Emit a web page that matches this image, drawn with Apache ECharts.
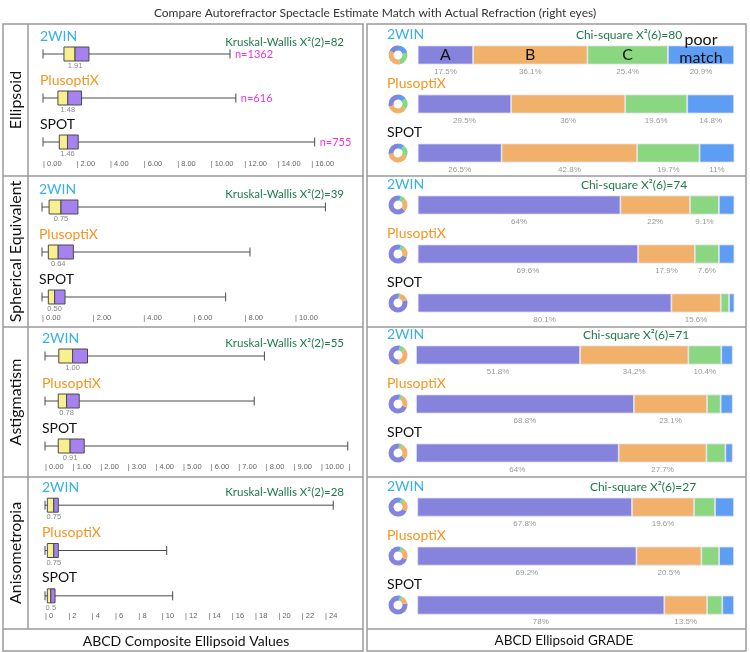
<!DOCTYPE html>
<html><head><meta charset="utf-8">
<script src="https://cdn.jsdelivr.net/npm/echarts@6/dist/echarts.min.js"></script>
<style>html,body{margin:0;padding:0;background:#fff}#c{width:750px;height:653px}</style>
</head><body><div id="c"></div>
<script>
// ---------- DATA ----------
const devices = ['2WIN', 'PlusoptiX', 'SPOT'];
const rowNames = ['Ellipsoid', 'Spherical Equivalent', 'Astigmatism', 'Anisometropia'];
// box stats per device: [min, Q1, median, Q3, max]
const ellipsoidBox = [[0, 1.25, 1.91, 2.74, 11.15], [0, 0.89, 1.48, 2.3, 11.5], [0, 0.97, 1.46, 2.1, 16.2]];
const sphericalBox = [[0, 0.28, 0.75, 1.42, 11.2], [0, 0.25, 0.64, 1.24, 8.22], [0, 0.25, 0.50, 0.91, 7.26]];
const astigBox = [[0, 0.5, 1.00, 1.54, 7.95], [0, 0.48, 0.78, 1.24, 7.58], [0, 0.48, 0.91, 1.42, 10.97]];
const anisoBox = [[0, 0.2, 0.75, 1.14, 24.7], [0, 0.2, 0.75, 1.14, 10.43], [0, 0.2, 0.5, 0.86, 10.94]];
const ellipsoidN = ['n=1362', 'n=616', 'n=755'];
const kruskal = [82, 39, 55, 28];
const chiSquare = [80, 74, 71, 27];
const gradeNames = ['A', 'B', 'C', 'poor match'];
// grade % per device: [A, B, C, poor match]
const ellipsoidGrade = [[17.5, 36.1, 25.4, 20.9], [29.5, 36, 19.6, 14.8], [26.5, 42.8, 19.7, 11]];
const sphericalGrade = [[64, 22, 9.1, 4.9], [69.6, 17.9, 7.6, 4.9], [80.1, 15.6, 2.6, 1.7]];
const astigGrade = [[51.8, 34.2, 10.4, 3.6], [68.8, 23.1, 4.3, 3.8], [64, 27.7, 6, 2.3]];
const anisoGrade = [[67.8, 19.6, 6.6, 6], [69.2, 20.5, 5.6, 4.7], [78, 13.5, 4.8, 3.7]];
// axis ranges
const axisMax = [17, 11.5, 11, 25];
const axisStep = [2, 2, 1, 2];
const axisDecimals = [2, 2, 2, 0];

// ---------- STYLE / LAYOUT ----------
const boxes = [ellipsoidBox, sphericalBox, astigBox, anisoBox];
const grades = [ellipsoidGrade, sphericalGrade, astigGrade, anisoGrade];
const devColors = ['#37b1e6', '#f7931e', '#111111'];
const gradeColors = ['#8683dc', '#f2b16b', '#8bd680', '#5e9df4'];
const FONT = '"Lato","Open Sans",sans-serif';
const SMALL = '"Liberation Sans",Arial,sans-serif';
const GREEN = '#1f7a4a';
const leftLay = [
  {x0: 43, ppu: 16.77, top: 32, h: 132, labM: 0},
  {x0: 42, ppu: 25.3, top: 184.5, h: 135, labM: -2},
  {x0: 45, ppu: 27.6, top: 333.5, h: 135, labM: -2},
  {x0: 45, ppu: 11.67, top: 482.5, h: 136, labM: -3}
];
const rightLay = [
  {left: 417.7, top: 30.5, chiX: 629}, {left: 417.7, top: 180.5, chiX: 634}, {left: 416, top: 330.5, chiX: 636}, {left: 417.3, top: 482.6, chiX: 643}
];
const RW = 316.7, RH = 147;
const rowTops = [24, 176, 327, 477, 629];

const grid = [], xAxis = [], yAxis = [], series = [], graphic = [];

function fmtNum(v, d) { return d === 0 ? String(v) : v.toFixed(d); }

for (let i = 0; i < 4; i++) {
  const L = leftLay[i];
  grid.push({left: L.x0, top: L.top, width: axisMax[i] * L.ppu, height: L.h, outerBoundsMode: 'none', containLabel: false});
  const step = axisStep[i], dec = axisDecimals[i], mx = axisMax[i];
  xAxis.push({
    type: 'value', gridIndex: i, min: 0, max: mx, interval: step,
    axisLine: {show: false}, axisTick: {show: false}, splitLine: {show: false},
    axisLabel: {
      show: true, align: 'left', verticalAlign: 'middle', margin: L.labM,
      fontSize: 7.5, color: '#666', fontFamily: SMALL, hideOverlap: false,
      showMinLabel: true, showMaxLabel: true,
      formatter: function (v) {
        if (Math.abs(v / step - Math.round(v / step)) > 1e-6) return '';
        if (i === 2 && v === mx) return '|';
        return '| ' + fmtNum(v, dec);
      }
    }
  });
  yAxis.push({type: 'category', gridIndex: i, data: devices, inverse: true, show: false});
  const rowIdx = i;
  series.push({
    type: 'custom', xAxisIndex: i, yAxisIndex: i, clip: false, silent: true,
    encode: {x: [1, 2, 3, 4, 5], y: 0},
    data: boxes[i].map((b, k) => [k].concat(b)),
    renderItem: function (params, api) {
      const k = api.value(0);
      const pMin = api.coord([api.value(1), k]);
      const pQ1 = api.coord([api.value(2), k]);
      const pMd = api.coord([api.value(3), k]);
      const pQ3 = api.coord([api.value(4), k]);
      const pMax = api.coord([api.value(5), k]);
      const y = pMin[1], bh = 14, ch = 9;
      const ls = {stroke: '#4a4a4a', lineWidth: 1};
      const ch_ = [
        {type: 'line', shape: {x1: pMin[0], y1: y, x2: pMax[0], y2: y}, style: ls},
        {type: 'line', shape: {x1: pMin[0], y1: y - ch / 2, x2: pMin[0], y2: y + ch / 2}, style: ls},
        {type: 'line', shape: {x1: pMax[0], y1: y - ch / 2, x2: pMax[0], y2: y + ch / 2}, style: ls},
        {type: 'rect', shape: {x: pQ1[0], y: y - bh / 2, width: pMd[0] - pQ1[0], height: bh}, style: {fill: '#f8f08e', stroke: '#4a4a4a', lineWidth: 1}},
        {type: 'rect', shape: {x: pMd[0], y: y - bh / 2, width: pQ3[0] - pMd[0], height: bh}, style: {fill: '#a582f0', stroke: '#4a4a4a', lineWidth: 1}},
        {type: 'text', style: {text: fmtNum(api.value(3), axisDecimals[rowIdx] === 0 ? 0 : 2), x: pMd[0], y: y + 12, textAlign: 'center', textVerticalAlign: 'middle', font: '7.5px ' + SMALL, fill: '#888'}},
        {type: 'text', style: {text: devices[k], x: pMin[0] - 3, y: y - 18, textAlign: 'left', textVerticalAlign: 'middle', font: '14px ' + FONT, fill: devColors[k]}}
      ];
      if (rowIdx === 0) {
        ch_.push({type: 'text', style: {text: ellipsoidN[k], x: pMax[0] + 5, y: y, textAlign: 'left', textVerticalAlign: 'middle', font: '11px ' + FONT, fill: '#ee33dd'}});
      }
      return {type: 'group', children: ch_};
    }
  });
}

for (let i = 0; i < 4; i++) {
  const R = rightLay[i], gi = 4 + i;
  grid.push({left: R.left, top: R.top, width: RW, height: RH, outerBoundsMode: 'none', containLabel: false});
  xAxis.push({type: 'value', gridIndex: gi, min: 0, max: 100, show: false, splitLine: {show: false}});
  yAxis.push({type: 'category', gridIndex: gi, data: devices, inverse: true, show: false});
  for (let g = 0; g < 4; g++) {
    series.push({
      type: 'bar', name: gradeNames[g], xAxisIndex: gi, yAxisIndex: gi, stack: 'row' + i,
      barWidth: 19, silent: true, z: 2,
      data: grades[i].map(r => r[g]),
      itemStyle: {color: gradeColors[g], borderColor: '#e2e2ea', borderWidth: 0.8},
      label: {
        show: true, position: 'bottom', distance: 3, fontSize: 8, color: '#999', fontFamily: SMALL,
        formatter: p => (p.value >= 7 ? p.value + '%' : '')
      }
    });
  }
  // donuts
  for (let k = 0; k < 3; k++) {
    series.push({
      type: 'pie', silent: true, animation: false,
      center: [398, R.top + (k + 0.5) * RH / 3], radius: [4.5, 9.5],
      startAngle: 90, clockwise: false, label: {show: false}, labelLine: {show: false},
      itemStyle: {borderWidth: 0},
      data: grades[i][k].map((v, g) => ({name: gradeNames[g], value: v, itemStyle: {color: gradeColors[g]}}))
    });
  }
}

// grade letters on first bar of first row
(function () {
  let cum = 0;
  const d = ellipsoidGrade[0].map((v, g) => { const m = cum + v / 2; cum += v; return [m, 0, g]; });
  series.push({
    type: 'custom', xAxisIndex: 4, yAxisIndex: 4, clip: false, silent: true, z: 20,
    encode: {x: 0, y: 1}, data: d,
    renderItem: function (params, api) {
      const p = api.coord([api.value(0), api.value(1)]);
      const g = api.value(2);
      const txt = g === 3 ? 'poor\nmatch' : gradeNames[g];
      return {type: 'text', z2: 100, style: {text: txt, x: p[0], y: p[1] + (g === 3 ? -6 : 0), textAlign: 'center', textVerticalAlign: 'middle', font: '16px ' + FONT, fill: '#111', lineHeight: 18}};
    }
  });
})();

// ---------- FRAMES & TEXT ----------
const frameStyle = {fill: 'none', stroke: '#9a9a9a', lineWidth: 1.5};
graphic.push({type: 'rect', shape: {x: 3, y: 24, width: 360, height: 627}, style: frameStyle, silent: true});
graphic.push({type: 'rect', shape: {x: 367, y: 24, width: 379, height: 627}, style: frameStyle, silent: true});
graphic.push({type: 'line', shape: {x1: 28, y1: 24, x2: 28, y2: 629}, style: frameStyle, silent: true});
for (let r = 1; r < 5; r++) {
  graphic.push({type: 'line', shape: {x1: 3, y1: rowTops[r], x2: 363, y2: rowTops[r]}, style: frameStyle, silent: true});
  graphic.push({type: 'line', shape: {x1: 367, y1: rowTops[r], x2: 746, y2: rowTops[r]}, style: frameStyle, silent: true});
}
for (let i = 0; i < 4; i++) {
  graphic.push({type: 'text', x: 15.5, y: (rowTops[i] + rowTops[i + 1]) / 2, rotation: Math.PI / 2, silent: true,
    style: {text: rowNames[i], x: 0, y: 0, textAlign: 'center', textVerticalAlign: 'middle', font: '16px ' + FONT, fill: '#111'}});
  const L = leftLay[i];
  graphic.push({type: 'text', silent: true, style: {text: 'Kruskal-Wallis X\u00b2(2)=' + kruskal[i], x: 344, y: L.top + 10, textAlign: 'right', textVerticalAlign: 'middle', font: '11.5px ' + FONT, fill: GREEN}});
  const R = rightLay[i];
  graphic.push({type: 'text', silent: true, style: {text: 'Chi-square X\u00b2(6)=' + chiSquare[i], x: R.chiX, y: R.top + 5, textAlign: 'center', textVerticalAlign: 'middle', font: '12px ' + FONT, fill: GREEN}});
  for (let k = 0; k < 3; k++) {
    graphic.push({type: 'text', silent: true, style: {text: devices[k], x: 387, y: R.top + (k + 0.5) * RH / 3 - 21, textAlign: 'left', textVerticalAlign: 'middle', font: '14px ' + FONT, fill: devColors[k]}});
  }
}
graphic.push({type: 'text', silent: true, style: {text: 'ABCD Composite Ellipsoid Values', x: 186, y: 641, textAlign: 'center', textVerticalAlign: 'middle', font: '14px ' + FONT, fill: '#111'}});
graphic.push({type: 'text', silent: true, style: {text: 'ABCD Ellipsoid GRADE', x: 564, y: 641, textAlign: 'center', textVerticalAlign: 'middle', font: '13.5px ' + FONT, fill: '#111'}});

const chart = echarts.init(document.getElementById('c'), null, {renderer: 'canvas'});
chart.setOption({
  animation: false,
  backgroundColor: '#fff',
  title: {text: 'Compare Autorefractor Spectacle Estimate Match with Actual Refraction (right eyes)', left: 'center', top: 2,
    textStyle: {fontSize: 12, fontWeight: 'normal', color: '#333', fontFamily: FONT}},
  grid: grid, xAxis: xAxis, yAxis: yAxis, series: series, graphic: graphic
});
</script></body></html>
